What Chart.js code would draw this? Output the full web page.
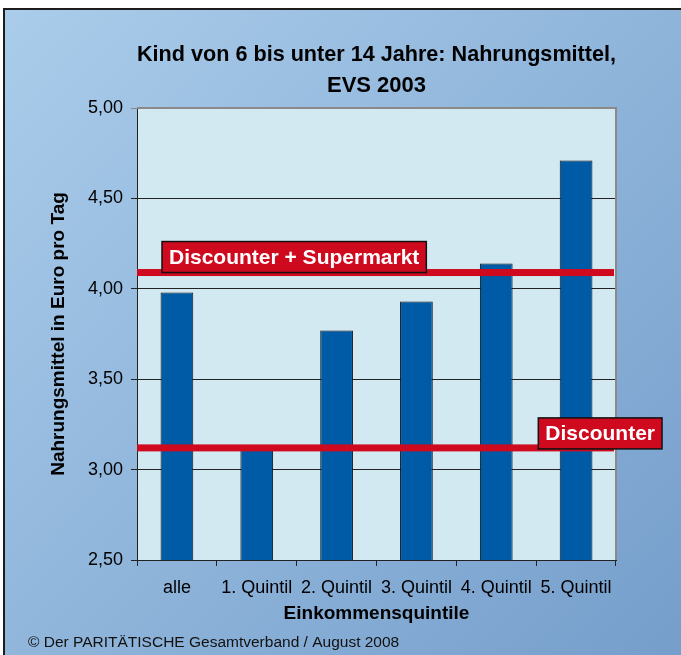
<!DOCTYPE html>
<html><head><meta charset="utf-8">
<script src="https://cdn.jsdelivr.net/npm/chart.js@4.4.1/dist/chart.umd.min.js"></script>
<style>html,body{margin:0;padding:0;background:#fff}#wrap{width:681px;height:655px}</style>
</head><body><div id="wrap"><canvas id="c" width="681" height="655"></canvas></div>
<script>
const categories = ['alle', '1. Quintil', '2. Quintil', '3. Quintil', '4. Quintil', '5. Quintil'];
const values = [3.98, 3.11, 3.77, 3.93, 4.14, 4.71];
const refLabels = ['Discounter + Supermarkt', 'Discounter'];
const refValues = [4.09, 3.12];
const yMin = 2.5, yMax = 5.0, yStep = 0.5;
const titleLines = ['Kind von 6 bis unter 14 Jahre: Nahrungsmittel,', 'EVS 2003'];
const yTitle = 'Nahrungsmittel in Euro pro Tag';
const xTitle = 'Einkommensquintile';
const credit = '\u00A9 Der PARIT\u00C4TISCHE Gesamtverband / August 2008';

const FONT = '"Liberation Sans", Arial, sans-serif';

const decor = {
  id: 'decor',
  beforeDraw(chart) {
    const {ctx, chartArea: a, width, height} = chart;
    ctx.save();
    ctx.fillStyle = '#fff';
    ctx.fillRect(0, 0, width, height);
    const g = ctx.createLinearGradient(0, 0, width, height);
    g.addColorStop(0, '#abcdeb');
    g.addColorStop(1, '#759ecb');
    ctx.fillStyle = g;
    ctx.fillRect(4, 9, width - 4, height - 9);
    ctx.strokeStyle = '#1c1c1c';
    ctx.lineWidth = 2;
    ctx.beginPath();
    ctx.moveTo(4, height); ctx.lineTo(4, 9); ctx.lineTo(width, 9);
    ctx.stroke();
    ctx.fillStyle = '#d3e9f1';
    ctx.fillRect(a.left, a.top, a.right - a.left, a.bottom - a.top);
    ctx.restore();
  },
  afterDatasetsDraw(chart) {
    const {ctx, chartArea: a, scales: {y}} = chart;
    ctx.save();
    // plot border right/top
    ctx.strokeStyle = '#8a8a8a';
    ctx.lineWidth = 2;
    ctx.beginPath();
    ctx.moveTo(a.left, a.top); ctx.lineTo(a.right, a.top); ctx.lineTo(a.right, a.bottom);
    ctx.stroke();
    // reference lines
    ctx.fillStyle = '#cf0a1f';
    refValues.forEach(v => {
      const py = y.getPixelForValue(v);
      ctx.fillRect(a.left, py - 3.5, a.right - 2 - a.left, 7);
    });
    // label boxes
    ctx.font = 'bold 21px ' + FONT;
    ctx.textBaseline = 'middle';
    ctx.textAlign = 'left';
    refLabels.forEach((t, i) => {
      const py = y.getPixelForValue(refValues[i]);
      const w = ctx.measureText(t).width + 14;
      const h = 31;
      let x0, y0;
      if (i === 0) { x0 = a.left + 25; y0 = py - h; }
      else { x0 = a.right + 46 - w; y0 = py + 1 - h; }
      ctx.fillStyle = '#cf0a1f';
      ctx.fillRect(x0, y0, w, h);
      ctx.strokeStyle = '#111';
      ctx.lineWidth = 1.5;
      ctx.strokeRect(x0, y0, w, h);
      ctx.fillStyle = '#fff';
      ctx.fillText(t, x0 + 7, y0 + h / 2 + 1);
    });
    ctx.restore();
  },
  afterDraw(chart) {
    const {ctx} = chart;
    ctx.save();
    ctx.font = '15.5px ' + FONT;
    ctx.fillStyle = '#111';
    ctx.textBaseline = 'alphabetic';
    ctx.textAlign = 'left';
    ctx.fillText(credit, 28, 647);
    ctx.restore();
  }
};

new Chart(document.getElementById('c'), {
  type: 'bar',
  data: {
    labels: categories,
    datasets: [{
      data: values,
      backgroundColor: '#005ba6',
      borderColor: '#111',
      borderWidth: 1,
      barPercentage: 0.41,
      categoryPercentage: 1.0
    }]
  },
  options: {
    responsive: false,
    devicePixelRatio: 1,
    animation: false,
    layout: { padding: { left: 20, right: 65, top: 0, bottom: 25 } },
    plugins: {
      legend: { display: false },
      tooltip: { enabled: false },
      title: {
        display: true,
        fullSize: false,
        text: titleLines,
        color: '#000',
        font: { family: FONT, size: 22, weight: 'bold', lineHeight: '31px' },
        padding: { top: 39.5, bottom: 6.5 }
      }
    },
    scales: {
      x: {
        afterFit(s) { s.height = 70; },
        grid: { drawOnChartArea: false, drawTicks: true, tickLength: 6, color: '#222', offset: true },
        border: { color: '#222', width: 1 },
        ticks: { color: '#000', padding: 11, font: { family: FONT, size: 18 } },
        title: { display: true, text: xTitle, color: '#000', padding: { top: 0, bottom: 5 },
                 font: { family: FONT, size: 19, weight: 'bold' } }
      },
      y: {
        min: yMin, max: yMax,
        afterFit(s) { s.width = 117; },
        grid: { color: ctx => (ctx.tick && ctx.tick.value === yMax) ? '#8a8a8a' : '#222', lineWidth: 1, tickLength: 6, drawTicks: true },
        border: { color: '#222', width: 1 },
        ticks: {
          stepSize: yStep, color: '#000', padding: 8,
          font: { family: FONT, size: 18 },
          callback: v => Number(v).toFixed(2).replace('.', ',')
        },
        title: { display: true, text: yTitle, color: '#000', padding: { top: 27, bottom: 0 },
                 font: { family: FONT, size: 19, weight: 'bold' } }
      }
    }
  },
  plugins: [decor]
});
</script>
</body></html>
